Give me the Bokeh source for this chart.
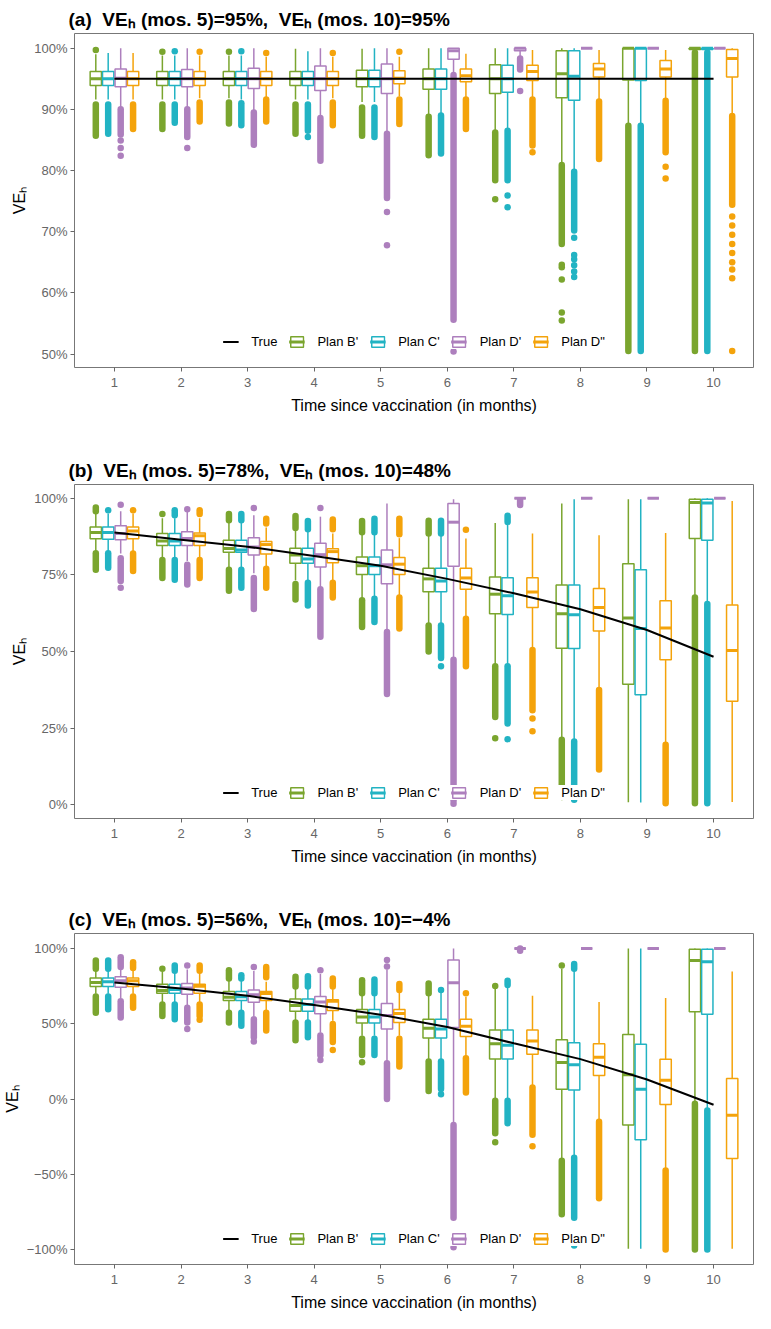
from bokeh.plotting import figure
from bokeh.models import ColumnDataSource, Range1d, FixedTicker, Legend, LegendItem
from bokeh.layouts import column
from bokeh.embed import file_html
from bokeh.resources import INLINE

MONTHS = [1, 2, 3, 4, 5, 6, 7, 8, 9, 10]
PLANS = ["Plan B'", "Plan C'", "Plan D'", 'Plan D"']
COLORS = ["#7AA52E", "#22B3C3", "#AD7FBD", "#F4A30B"]
OFFSETS = [-0.28, -0.094, 0.094, 0.28]
BOX_W = 0.17

# ---------------- panel (a) ----------------
A_TITLE = "(a) \u00a0VEₕ (mos. 5)=95%, \u00a0VEₕ (mos. 10)=95%"
A_TRUE = [95, 95, 95, 95, 95, 95, 95, 95, 95, 95]
A_YTICKS = [50, 60, 70, 80, 90, 100]
A_YLABELS = ["50%", "60%", "70%", "80%", "90%", "100%"]
# (lower whisker, q1, median, q3, upper whisker) per month
A_B = [(91.6, 93.9, 95.0, 96.2, 99.0), (91.6, 93.9, 95.0, 96.2, 98.8), (91.8, 93.9, 95.0, 96.2, 98.8),
       (91.6, 93.9, 95.0, 96.2, 99.9), (91.2, 93.7, 95.0, 96.4, 99.9), (89.2, 93.3, 95.0, 96.6, 100.0),
       (86.6, 92.6, 95.0, 97.3, 100.0), (81.2, 91.9, 95.8, 99.6, 100.0), (87.6, 94.8, 100.0, 100.0, 100.0),
       (99.6, 99.8, 100.0, 100.0, 100.0)]
A_C = [(91.6, 93.9, 95.0, 96.2, 99.2), (91.6, 93.9, 95.0, 96.2, 98.8), (91.6, 93.9, 95.0, 96.2, 98.8),
       (91.6, 93.9, 95.0, 96.2, 99.5), (91.2, 93.7, 95.0, 96.4, 100.0), (89.4, 93.3, 95.0, 96.6, 100.0),
       (86.8, 92.8, 95.0, 97.2, 100.0), (80.2, 91.5, 95.4, 99.6, 100.0), (87.5, 94.7, 100.0, 100.0, 100.0),
       (99.6, 99.8, 100.0, 100.0, 100.0)]
A_D1 = [(90.3, 93.7, 95.1, 96.6, 100.0), (90.3, 93.7, 95.0, 96.5, 100.0), (89.8, 93.4, 95.0, 96.7, 100.0),
        (88.9, 93.1, 95.0, 97.1, 100.0), (86.3, 92.6, 95.0, 97.4, 100.0), (96.0, 98.2, 99.6, 100.0, 100.0),
        (98.6, 99.6, 100.0, 100.0, 100.0), (100.0, 100.0, 100.0, 100.0, 100.0),
        (100.0, 100.0, 100.0, 100.0, 100.0), (100.0, 100.0, 100.0, 100.0, 100.0)]
A_D2 = [(91.6, 93.9, 95.0, 96.2, 99.2), (91.8, 93.9, 95.0, 96.2, 98.8), (91.8, 93.9, 95.0, 96.2, 98.6),
        (91.8, 93.9, 95.0, 96.2, 98.6), (92.1, 94.2, 95.1, 96.3, 98.6), (91.9, 94.5, 95.5, 96.6, 99.1),
        (92.0, 94.7, 96.2, 97.2, 99.7), (91.6, 95.3, 96.6, 97.5, 99.7), (91.6, 95.3, 96.6, 98.0, 99.7),
        (89.2, 95.3, 98.3, 99.8, 100.0)]
# dense runs of outliers: (plan, month, from, to)
A_RUNS = [(0, 1, 90.8, 85.7), (0, 2, 90.8, 86.8), (0, 3, 91.1, 87.7), (0, 4, 90.8, 86.0), (0, 5, 90.3, 85.7),
          (0, 6, 88.8, 82.5), (0, 7, 86.2, 78.4), (0, 8, 80.9, 68.0), (0, 9, 87.3, 50.5), (0, 10, 99.3, 50.5),
          (1, 1, 90.8, 86.0), (1, 2, 90.8, 87.8), (1, 3, 91.0, 87.4), (1, 4, 90.8, 86.5), (1, 5, 90.3, 85.5),
          (1, 6, 89.0, 82.8), (1, 7, 86.5, 78.4), (1, 8, 79.8, 70.2), (1, 9, 87.3, 50.5), (1, 10, 99.3, 50.5),
          (2, 1, 90.0, 85.9), (2, 2, 90.0, 85.5), (2, 3, 89.5, 84.2), (2, 4, 88.6, 81.6), (2, 5, 86.0, 75.5),
          (2, 6, 95.6, 55.6), (2, 7, 98.3, 96.5),
          (3, 1, 90.8, 86.8), (3, 2, 91.1, 88.0), (3, 3, 91.6, 88.0), (3, 4, 91.1, 87.4), (3, 5, 91.6, 87.6),
          (3, 6, 91.6, 86.8), (3, 7, 91.6, 84.1), (3, 8, 91.3, 81.9), (3, 9, 91.4, 83.0), (3, 10, 88.9, 74.4)]
# single outliers: (plan, month, value)
A_POINTS = [(0, 1, 99.7), (0, 2, 99.4), (0, 3, 99.4), (0, 7, 75.3), (0, 8, 64.6), (0, 8, 64.2), (0, 8, 62.2),
            (0, 8, 56.8), (0, 8, 55.5),
            (1, 2, 99.5), (1, 3, 99.5), (1, 4, 85.5), (1, 7, 75.9), (1, 7, 74.0), (1, 8, 69.0), (1, 8, 66.2),
            (1, 8, 65.5), (1, 8, 64.5), (1, 8, 63.5), (1, 8, 62.6),
            (2, 1, 84.9), (2, 1, 83.7), (2, 1, 82.4), (2, 2, 83.7), (2, 5, 73.2), (2, 5, 67.8), (2, 6, 50.4),
            (2, 7, 93.0),
            (3, 2, 99.4), (3, 3, 99.2), (3, 4, 99.2), (3, 5, 99.4), (3, 7, 83.0), (3, 9, 80.6), (3, 9, 78.7),
            (3, 10, 72.5), (3, 10, 71.0), (3, 10, 69.5), (3, 10, 68.0), (3, 10, 66.5), (3, 10, 65.0),
            (3, 10, 63.8), (3, 10, 62.4), (3, 10, 50.5)]

# ---------------- panel (b) ----------------
B_TITLE = "(b) \u00a0VEₕ (mos. 5)=78%, \u00a0VEₕ (mos. 10)=48%"
B_TRUE = [88.8, 86.5, 84.2, 81.2, 78.0, 73.7, 69.0, 63.8, 57.0, 48.3]
B_YTICKS = [0, 25, 50, 75, 100]
B_YLABELS = ["0%", "25%", "50%", "75%", "100%"]
B_B = [(82.6, 86.8, 88.8, 90.6, 95.3), (80.5, 84.6, 86.1, 88.5, 93.5), (77.2, 82.4, 83.6, 86.3, 92.3),
       (73.2, 78.8, 81.5, 83.7, 89.8), (67.5, 75.1, 78.0, 80.8, 88.2), (59.0, 69.5, 73.7, 77.2, 88.0),
       (45.8, 62.3, 68.7, 74.3, 91.9), (21.5, 51.1, 62.3, 71.7, 98.3), (0.8, 39.3, 60.9, 78.6, 99.7),
       (68.0, 86.9, 98.6, 99.7, 100.0)]
B_C = [(82.6, 86.6, 88.8, 90.6, 95.0), (80.5, 84.6, 86.1, 88.5, 93.5), (77.2, 82.4, 83.1, 86.3, 92.3),
       (73.0, 78.8, 80.2, 83.7, 89.5), (67.8, 75.1, 78.0, 80.8, 88.2), (59.0, 69.5, 73.0, 77.2, 88.0),
       (45.8, 62.1, 68.2, 74.1, 91.5), (21.0, 51.0, 62.0, 71.7, 99.7), (0.7, 35.9, 57.5, 76.7, 99.7),
       (65.8, 86.3, 98.5, 99.7, 100.0)]
B_D1 = [(82.0, 86.5, 88.5, 91.0, 95.8), (79.5, 84.6, 86.9, 89.1, 95.5), (75.5, 81.5, 84.1, 87.1, 94.5),
        (71.0, 77.6, 81.6, 85.3, 94.0), (57.0, 72.1, 78.3, 83.1, 98.3), (47.6, 77.8, 92.2, 98.3, 99.7),
        (100.0, 100.0, 100.0, 100.0, 100.0), (100.0, 100.0, 100.0, 100.0, 100.0),
        (100.0, 100.0, 100.0, 100.0, 100.0), (100.0, 100.0, 100.0, 100.0, 100.0)]
B_D2 = [(82.6, 86.8, 89.3, 90.6, 95.0), (80.5, 84.6, 87.8, 88.7, 93.5), (77.2, 81.8, 84.9, 85.9, 90.5),
        (73.0, 79.0, 82.6, 83.5, 88.5), (68.0, 75.1, 78.5, 80.7, 87.0), (61.0, 70.3, 74.0, 77.2, 86.9),
        (51.0, 64.4, 69.4, 74.1, 88.5), (37.8, 56.7, 64.4, 70.6, 87.9), (20.0, 47.3, 57.7, 66.6, 88.7),
        (0.9, 33.8, 50.3, 65.2, 99.1)]
B_RUNS = [(0, 1, 97.0, 95.8), (0, 1, 82.1, 76.7), (0, 2, 79.9, 74.0), (0, 3, 94.9, 92.8), (0, 3, 76.7, 69.8),
          (0, 4, 94.2, 90.3), (0, 4, 72.0, 67.0), (0, 5, 92.6, 88.9), (0, 5, 66.7, 58.0), (0, 6, 92.7, 88.5),
          (0, 6, 58.5, 50.0), (0, 7, 45.2, 28.6), (0, 8, 21.2, 2.5), (0, 10, 67.6, 0.5),
          (1, 1, 82.1, 77.3), (1, 2, 96.1, 94.5), (1, 2, 79.9, 73.4), (1, 3, 94.9, 92.8), (1, 3, 76.7, 70.8),
          (1, 4, 92.6, 89.9), (1, 4, 72.4, 65.0), (1, 5, 93.3, 88.9), (1, 5, 67.2, 59.6), (1, 6, 92.7, 88.5),
          (1, 6, 58.5, 47.9), (1, 7, 94.3, 92.3), (1, 7, 45.2, 26.5), (1, 8, 20.6, 4.0), (1, 10, 65.5, 0.5),
          (2, 1, 80.4, 73.0), (2, 2, 78.3, 71.9), (2, 3, 74.0, 63.9), (2, 4, 70.3, 54.8), (2, 5, 56.4, 36.1),
          (2, 6, 47.3, 1.4), (2, 7, 99.3, 97.8),
          (3, 1, 82.0, 76.3), (3, 2, 96.1, 94.9), (3, 2, 79.9, 74.0), (3, 3, 93.3, 91.8), (3, 3, 77.0, 70.8),
          (3, 4, 93.1, 89.9), (3, 4, 72.4, 67.6), (3, 5, 93.3, 88.3), (3, 5, 67.6, 57.5), (3, 6, 60.7, 45.2),
          (3, 7, 50.5, 30.8), (3, 8, 37.4, 11.5), (3, 9, 19.6, 0.5)]
B_POINTS = [(0, 2, 94.9), (0, 7, 21.7), (1, 1, 96.1), (1, 6, 45.2), (1, 7, 21.4), (1, 8, 1.6),
            (2, 1, 97.9), (2, 1, 70.8), (2, 2, 96.4), (2, 3, 96.8), (2, 4, 96.8), (2, 6, 0.3),
            (3, 1, 96.1), (3, 6, 89.7), (3, 7, 28.1), (3, 7, 24.0)]

# ---------------- panel (c) ----------------
C_TITLE = "(c) \u00a0VEₕ (mos. 5)=56%, \u00a0VEₕ (mos. 10)=−4%"
C_TRUE = [77.5, 73.4, 68.6, 62.5, 56.0, 47.8, 37.0, 26.5, 13.0, -3.8]
C_YTICKS = [-100, -50, 0, 50, 100]
C_YLABELS = ["−100%", "−50%", "0%", "50%", "100%"]
C_B = [(70.0, 74.7, 77.5, 80.5, 85.5), (64.0, 70.3, 72.1, 76.2, 84.5), (59.0, 65.4, 67.7, 71.4, 79.5),
       (52.0, 58.4, 62.1, 66.4, 74.0), (42.0, 50.5, 54.5, 59.5, 69.5), (26.0, 40.5, 47.0, 53.0, 69.5),
       (0.0, 26.6, 36.8, 45.9, 73.5), (-40.0, 6.5, 24.2, 39.4, 86.5), (-99.6, -17.3, 16.2, 42.9, 100.0),
       (-2.5, 58.0, 92.0, 99.6, 100.0)]
C_C = [(70.0, 74.7, 77.9, 80.5, 85.5), (64.0, 70.3, 72.7, 76.2, 84.5), (59.0, 65.4, 67.9, 71.4, 79.5),
       (52.0, 58.4, 62.8, 66.4, 74.0), (42.0, 50.5, 54.5, 59.5, 69.5), (26.0, 40.5, 46.5, 53.0, 70.5),
       (0.0, 26.6, 35.7, 45.9, 74.5), (-38.0, 6.0, 22.7, 37.4, 85.5), (-99.6, -27.1, 6.5, 36.4, 100.0),
       (-7.0, 56.3, 91.3, 99.6, 100.0)]
C_D1 = [(67.0, 74.2, 78.6, 81.2, 86.5), (62.0, 69.7, 73.8, 76.8, 86.0), (55.0, 64.3, 69.3, 72.5, 85.0),
        (44.0, 56.7, 64.5, 68.2, 83.0), (25.0, 46.5, 55.5, 63.4, 86.0), (-17.0, 47.6, 77.3, 92.4, 100.0),
        (100.0, 100.0, 100.0, 100.0, 100.0), (100.0, 100.0, 100.0, 100.0, 100.0),
        (100.0, 100.0, 100.0, 100.0, 100.0), (100.0, 100.0, 100.0, 100.0, 100.0)]
C_D2 = [(70.0, 74.7, 78.6, 80.5, 86.0), (64.0, 70.3, 75.0, 76.2, 84.0), (59.0, 65.4, 70.2, 71.4, 78.0),
        (52.0, 58.9, 65.0, 66.0, 73.0), (42.0, 50.9, 56.8, 59.5, 71.0), (28.0, 41.5, 48.3, 53.0, 68.0),
        (8.0, 29.7, 38.5, 45.9, 68.6), (-14.0, 15.6, 27.7, 36.8, 64.5), (-47.0, -3.7, 12.5, 26.4, 67.1),
        (-99.6, -39.6, -10.8, 13.6, 84.8)]
C_RUNS = [(0, 1, 92.0, 86.6), (0, 1, 68.2, 57.4), (0, 2, 62.8, 55.2), (0, 3, 85.5, 80.1), (0, 3, 57.4, 50.9),
          (0, 4, 81.2, 74.7), (0, 4, 50.9, 39.0), (0, 5, 79.0, 70.3), (0, 5, 40.0, 29.2), (0, 6, 76.8, 70.3),
          (0, 6, 24.9, 5.4), (0, 7, -1.1, -22.7), (0, 8, -41.1, -76.6), (0, 10, -3.2, -100.0),
          (1, 1, 92.0, 86.6), (1, 1, 68.2, 59.7), (1, 2, 88.7, 85.2), (1, 2, 62.8, 53.0), (1, 3, 82.3, 80.1),
          (1, 3, 57.4, 48.7), (1, 4, 81.6, 74.7), (1, 4, 50.9, 41.1), (1, 5, 79.5, 70.3), (1, 5, 40.0, 29.2),
          (1, 6, 24.9, 6.7), (1, 7, 78.6, 75.8), (1, 7, -1.1, -16.2), (1, 8, 89.8, 86.6), (1, 8, -39.0, -79.0),
          (1, 10, -7.6, -100.0),
          (2, 1, 94.2, 87.7), (2, 1, 65.0, 54.1), (2, 2, 60.6, 50.9), (2, 3, 53.0, 41.1), (2, 4, 42.2, 29.0),
          (2, 5, 23.8, 0.0), (2, 6, -17.3, -79.0), (2, 7, 100.0, 98.5),
          (3, 1, 90.9, 87.1), (3, 1, 68.2, 60.6), (3, 2, 88.7, 85.2), (3, 2, 62.8, 55.2), (3, 3, 87.7, 81.0),
          (3, 3, 57.4, 45.5), (3, 4, 80.1, 74.7), (3, 4, 49.8, 37.9), (3, 5, 76.4, 72.5), (3, 5, 40.0, 21.6),
          (3, 6, 27.1, 4.4), (3, 7, 7.6, -23.8), (3, 8, -15.1, -66.0), (3, 9, -47.6, -100.0)]
C_POINTS = [(0, 2, 86.6), (0, 5, 24.5), (0, 7, 75.1), (0, 7, -28.8), (0, 8, 88.7),
            (1, 6, 72.5), (1, 6, 3.2), (1, 8, -97.4),
            (2, 2, 88.7), (2, 2, 46.6), (2, 3, 87.7), (2, 3, 38.3), (2, 4, 85.5), (2, 4, 26.0), (2, 5, 88.1),
            (2, 5, 92.4), (2, 6, -98.5),
            (3, 2, 52.6), (3, 4, 32.5), (3, 6, 70.3), (3, 7, -31.4)]

FONT = "Liberation Sans"


def make_panel(title, stats, runs, points, truth, yticks, ylabels, yrange, height, top, bottom):
    p = figure(width=755, height=height, output_backend="svg", toolbar_location=None,
               x_range=Range1d(0.4, 10.6), y_range=Range1d(*yrange),
               min_border_left=60, min_border_right=2, min_border_top=top, min_border_bottom=bottom,
               background_fill_color="white", border_fill_color="white")
    p.title.text = title
    p.title.text_font = FONT
    p.title.text_font_size = "19px"
    p.title.text_font_style = "bold"
    p.title.text_color = "black"
    p.title.align = "left"
    p.title.offset = -6
    p.title.standoff = 8
    p.xgrid.visible = False
    p.ygrid.visible = False
    p.outline_line_color = "#777777"
    p.outline_line_width = 1

    for ax in (p.xaxis[0], p.yaxis[0]):
        ax.axis_line_color = None
        ax.major_tick_line_color = "#666666"
        ax.major_tick_out = 4
        ax.major_tick_in = 0
        ax.minor_tick_line_color = None
        ax.major_label_text_font = FONT
        ax.major_label_text_font_size = "13px"
        ax.major_label_text_color = "#666666"
        ax.axis_label_text_font = FONT
        ax.axis_label_text_font_size = "16px"
        ax.axis_label_text_font_style = "normal"
        ax.axis_label_text_color = "black"
    p.xaxis.major_label_standoff = 6
    p.xaxis.axis_label_standoff = 7
    p.yaxis.major_label_standoff = 3
    p.yaxis.axis_label_standoff = 3
    p.xaxis.ticker = FixedTicker(ticks=MONTHS)
    p.yaxis.ticker = FixedTicker(ticks=yticks)
    p.yaxis.major_label_overrides = {t: l for t, l in zip(yticks, ylabels)}
    p.xaxis.axis_label = "Time since vaccination (in months)"
    p.yaxis.axis_label = "VEₕ"

    # outliers
    for j, col in enumerate(COLORS):
        rr = [r for r in runs if r[0] == j]
        if rr:
            src = ColumnDataSource(dict(x=[r[1] + OFFSETS[j] for r in rr],
                                        y0=[r[2] for r in rr], y1=[r[3] for r in rr]))
            p.segment(x0="x", y0="y0", x1="x", y1="y1", source=src, line_color=col,
                      line_width=6.5, line_cap="round")
        pp = [q for q in points if q[0] == j]
        if pp:
            src = ColumnDataSource(dict(x=[q[1] + OFFSETS[j] for q in pp], y=[q[2] for q in pp]))
            p.scatter(x="x", y="y", source=src, size=6.5, fill_color=col, line_color=None)

    items = []
    box_items = []
    for j, col in enumerate(COLORS):
        st = stats[j]
        xs = [m + OFFSETS[j] for m in MONTHS]
        src = ColumnDataSource(dict(
            x=xs, left=[x - BOX_W / 2 for x in xs], right=[x + BOX_W / 2 for x in xs],
            lo=[s[0] for s in st], q1=[s[1] for s in st], med=[s[2] for s in st],
            q3=[s[3] for s in st], hi=[s[4] for s in st]))
        p.segment(x0="x", y0="q3", x1="x", y1="hi", source=src, line_color=col, line_width=1.5)
        p.segment(x0="x", y0="q1", x1="x", y1="lo", source=src, line_color=col, line_width=1.5)
        qr = p.quad(left="left", right="right", bottom="q1", top="q3", source=src,
                    fill_color="white", line_color=col, line_width=1.5)
        mr = p.segment(x0="left", y0="med", x1="right", y1="med", source=src,
                       line_color=col, line_width=3)
        box_items.append(LegendItem(label=PLANS[j], renderers=[qr, mr]))

    lr = p.line(MONTHS, truth, line_color="black", line_width=2)
    items.append(LegendItem(label="True", renderers=[lr]))
    items.extend(box_items)

    legend = Legend(items=items, location="bottom_center", orientation="horizontal",
                    background_fill_color="white", background_fill_alpha=1.0,
                    border_line_color=None, label_text_font=FONT, label_text_font_size="13px",
                    label_text_color="black", glyph_width=16, glyph_height=13,
                    label_standoff=13, spacing=11, padding=7, margin=18)
    p.add_layout(legend)
    return p


pa = make_panel(A_TITLE, [A_B, A_C, A_D1, A_D2], A_RUNS, A_POINTS, A_TRUE,
                A_YTICKS, A_YLABELS, (47.8, 102.4), 444, 33, 77)
pb = make_panel(B_TITLE, [B_B, B_C, B_D1, B_D2], B_RUNS, B_POINTS, B_TRUE,
                B_YTICKS, B_YLABELS, (-4.5, 104.5), 451, 40, 77)
pc = make_panel(C_TITLE, [C_B, C_C, C_D1, C_D2], C_RUNS, C_POINTS, C_TRUE,
                C_YTICKS, C_YLABELS, (-110, 110), 418, 38, 46)

layout = column(pa, pb, pc, spacing=0)
open("out.html", "w").write(file_html(layout, INLINE))
